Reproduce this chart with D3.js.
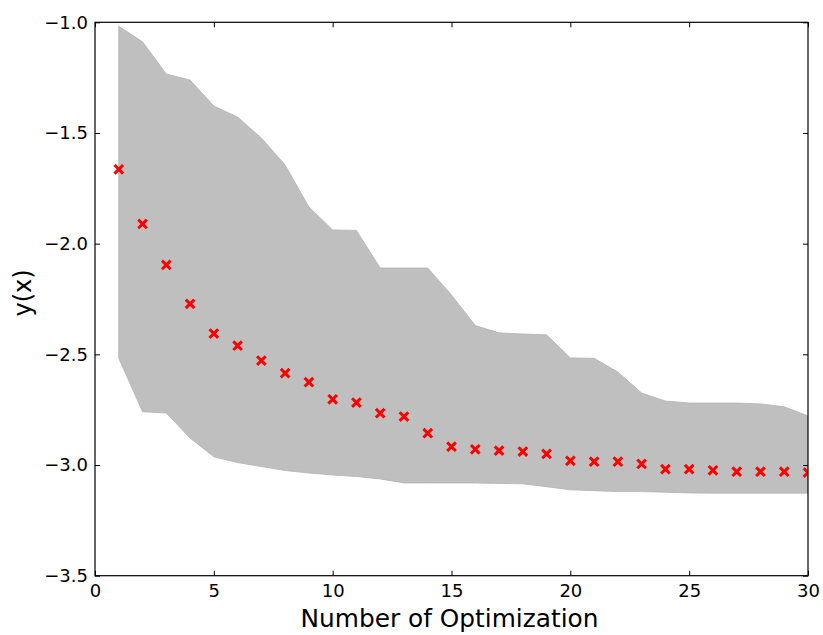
<!DOCTYPE html>
<html>
<head>
<meta charset="utf-8">
<script src="https://cdn.jsdelivr.net/npm/d3@7"></script>
<style>
  html, body { margin: 0; padding: 0; background: #fff; }
  svg { display: block; }
  text { font-family: "DejaVu Sans", sans-serif; fill: #000; }
</style>
</head>
<body>
<svg id="chart" width="823" height="635"></svg>
<script>
const iterations = d3.range(1, 31);
const meanValues = [-1.664, -1.911, -2.096, -2.272, -2.406, -2.461, -2.528, -2.585, -2.626, -2.703,
  -2.718, -2.766, -2.781, -2.856, -2.917, -2.929, -2.935, -2.939, -2.950, -2.981,
  -2.985, -2.985, -2.995, -3.019, -3.019, -3.024, -3.030, -3.030, -3.030, -3.034];
const upperValues = [-1.018, -1.088, -1.234, -1.261, -1.378, -1.428, -1.523, -1.645, -1.834, -1.938,
  -1.940, -2.110, -2.110, -2.110, -2.232, -2.370, -2.403, -2.408, -2.412, -2.516,
  -2.518, -2.580, -2.675, -2.711, -2.720, -2.720, -2.720, -2.724, -2.737, -2.778];
const lowerValues = [-2.518, -2.759, -2.765, -2.878, -2.963, -2.989, -3.007, -3.025, -3.036, -3.045,
  -3.052, -3.063, -3.081, -3.081, -3.081, -3.081, -3.083, -3.085, -3.098, -3.112,
  -3.116, -3.120, -3.120, -3.123, -3.126, -3.127, -3.127, -3.127, -3.127, -3.127];
const xTicks = [0, 5, 10, 15, 20, 25, 30];
const yTicks = [-1.0, -1.5, -2.0, -2.5, -3.0, -3.5];

const L = 95, R = 808, T = 22.3, B = 575.7;
const svg = d3.select("#chart");
const x = d3.scaleLinear().domain([0, 30]).range([L, R]);
const y = d3.scaleLinear().domain([-3.5, -1.0]).range([B, T]);

svg.append("defs").append("clipPath").attr("id", "clip")
  .append("rect").attr("x", L).attr("y", T).attr("width", R - L).attr("height", B - T);

const band = iterations.map((d, i) => ({ x: d, lo: lowerValues[i], hi: upperValues[i] }));
const area = d3.area().x(d => x(d.x)).y0(d => y(d.lo)).y1(d => y(d.hi));

const plot = svg.append("g").attr("clip-path", "url(#clip)");
plot.append("path").datum(band).attr("d", area)
  .attr("fill", "#bfbfbf").attr("stroke", "#b3b3b3").attr("stroke-width", 0.8);

const s = 4.3;
const marks = plot.selectAll("g.mark").data(iterations.map((d, i) => ({ x: d, y: meanValues[i] })))
  .enter().append("g").attr("class", "mark")
  .attr("transform", d => `translate(${x(d.x)},${y(d.y)})`);
marks.append("path")
  .attr("d", `M${-s},${-s}L${s},${s}M${-s},${s}L${s},${-s}`)
  .attr("stroke", "#ff0000").attr("stroke-width", 3).attr("fill", "none");

// axes with inward ticks on all four sides
const tickLen = 5;
const axB = svg.append("g").attr("transform", `translate(0,${B})`)
  .call(d3.axisBottom(x).tickValues(xTicks).tickSize(-tickLen).tickPadding(9).tickFormat(d3.format("d")));
const axT = svg.append("g").attr("transform", `translate(0,${T})`)
  .call(d3.axisTop(x).tickValues(xTicks).tickSize(-tickLen).tickFormat(""));
const axL = svg.append("g").attr("transform", `translate(${L},0)`)
  .call(d3.axisLeft(y).tickValues(yTicks).tickSize(-tickLen).tickPadding(7)
    .tickFormat(d => d3.format(".1f")(d).replace("-", "\u2212")));
const axR = svg.append("g").attr("transform", `translate(${R},0)`)
  .call(d3.axisRight(y).tickValues(yTicks).tickSize(-tickLen).tickFormat(""));

[axB, axT, axL, axR].forEach(a => {
  a.select(".domain").remove();
  a.selectAll(".tick line").attr("stroke", "#000").attr("stroke-width", 1);
  a.selectAll(".tick text").attr("font-size", 18).attr("font-family", "DejaVu Sans, sans-serif").attr("fill", "#000");
});

svg.append("rect").attr("x", L).attr("y", T).attr("width", R - L).attr("height", B - T)
  .attr("fill", "none").attr("stroke", "#000").attr("stroke-width", 1.2);

svg.append("text").attr("x", (L + R) / 2 - 2).attr("y", 627)
  .attr("text-anchor", "middle").attr("font-size", 24.8).text("Number of Optimization");
svg.append("text").attr("transform", `translate(31,${(T + B) / 2 - 6}) rotate(-90)`)
  .attr("text-anchor", "middle").attr("font-size", 24).text("y(x)");
</script>
</body>
</html>
